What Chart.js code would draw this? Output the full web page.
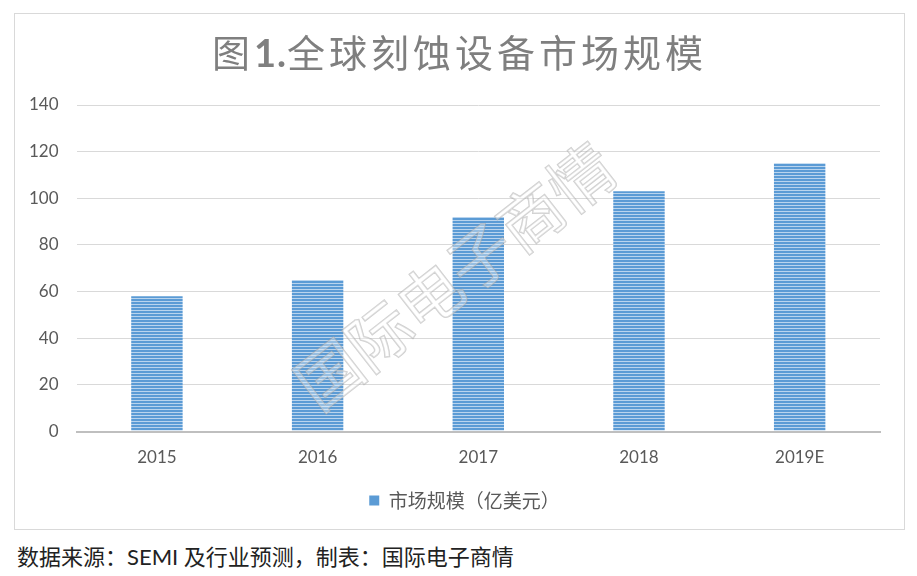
<!DOCTYPE html>
<html><head><meta charset="utf-8">
<script src="https://cdn.jsdelivr.net/npm/chart.js@4"></script>
<style>
html,body{margin:0;padding:0;background:#fff;width:917px;height:576px;overflow:hidden;}
#frame{position:absolute;left:14px;top:13px;width:889px;height:515px;border:1px solid #d9d9d9;overflow:hidden;}
#wrap{position:absolute;left:-4px;top:0;width:893px;height:515px;}
#title{position:absolute;left:0;top:15px;width:889px;text-align:center;font-family:"Noto Sans CJK SC",sans-serif;font-size:38px;line-height:44px;color:#7f7f7f;letter-spacing:4px;white-space:nowrap;}
#title b{font-family:"Lato",sans-serif;font-weight:bold;letter-spacing:1px;}
#src{position:absolute;left:17px;top:539px;font-family:"Lato","Noto Sans CJK SC",sans-serif;font-size:22px;color:#222;white-space:nowrap;}
</style></head><body>
<div id="frame"><div id="wrap"><canvas id="c"></canvas></div><div id="title">图<b>1.</b>全球刻蚀设备市场规模</div></div>
<div id="src">数据来源：SEMI 及行业预测，制表：国际电子商情</div>
<script>
const categories = ["2015","2016","2017","2018","2019E"];
const marketSize = [58, 65, 92, 103, 115];
const yTicks = [0,20,40,60,80,100,120,140];
const seriesName = "市场规模（亿美元）";
const watermark = "国际电子商情";

function stripePattern(){
  const p = document.createElement('canvas');
  p.width = 4; p.height = 3;
  const g = p.getContext('2d');
  g.fillStyle = '#5b9bd5'; g.fillRect(0,0,4,3);
  g.fillStyle = '#b9d4ee'; g.fillRect(0,2,4,1);
  return g.createPattern(p,'repeat');
}
const ctx = document.getElementById('c').getContext('2d');
const pattern = stripePattern();

const watermarkPlugin = {
  id:'wm',
  beforeDraw(chart){
    const lg = chart.legend;
    if (lg && !lg._shifted){ lg.left += 19; lg.right += 19; lg.top += 3; lg.bottom += 3; lg._shifted = true; }
  },
  afterDatasetsDraw(chart){
    const c = chart.ctx;
    c.save();
    c.translate(444, 262);
    c.rotate(-38*Math.PI/180);
    c.font = '64px "Noto Sans CJK SC"';
    c.textAlign='center'; c.textBaseline='middle';
    c.globalAlpha = 0.55;
    c.strokeStyle = '#a6a6a6';
    c.lineWidth = 1.5;
    c.strokeText(watermark,0,0);
    c.globalAlpha = 0.35;
    c.fillStyle = '#ffffff';
    c.fillText(watermark,0,0);
    c.restore();
  }
};

new Chart(ctx,{
  type:'bar',
  data:{labels:categories,datasets:[{label:seriesName,data:marketSize,backgroundColor:pattern,borderWidth:0,barPercentage:0.32,categoryPercentage:1}]},
  options:{
    responsive:true,maintainAspectRatio:false,animation:false,
    layout:{padding:{left:0,right:24,top:91,bottom:12}},
    plugins:{
      title:{display:false},
      legend:{position:'bottom',labels:{color:'#595959',font:{family:'"Noto Sans CJK SC"',size:19},boxWidth:10,boxHeight:10,padding:12,
        generateLabels(chart){return [{text:seriesName,fillStyle:'#5b9bd5',strokeStyle:'#5b9bd5',lineWidth:0,datasetIndex:0,fontColor:'#595959'}];}}},
      tooltip:{enabled:false}
    },
    scales:{
      x:{grid:{display:false},border:{display:true,color:'#bfbfbf',width:2},ticks:{color:'#595959',font:{family:'Lato',size:17},padding:8}},
      y:{min:0,max:140,afterBuildTicks(s){s.ticks=yTicks.map(v=>({value:v}));},
        grid:{color:(c)=>c.tick&&c.tick.value===0?'#bfbfbf':'#d9d9d9',lineWidth:(c)=>c.tick&&c.tick.value===0?2:1,drawTicks:false},
        border:{display:false},ticks:{color:'#595959',font:{family:'Lato',size:17},padding:18}}
    }
  },
  plugins:[watermarkPlugin]
});
</script>
</body></html>
